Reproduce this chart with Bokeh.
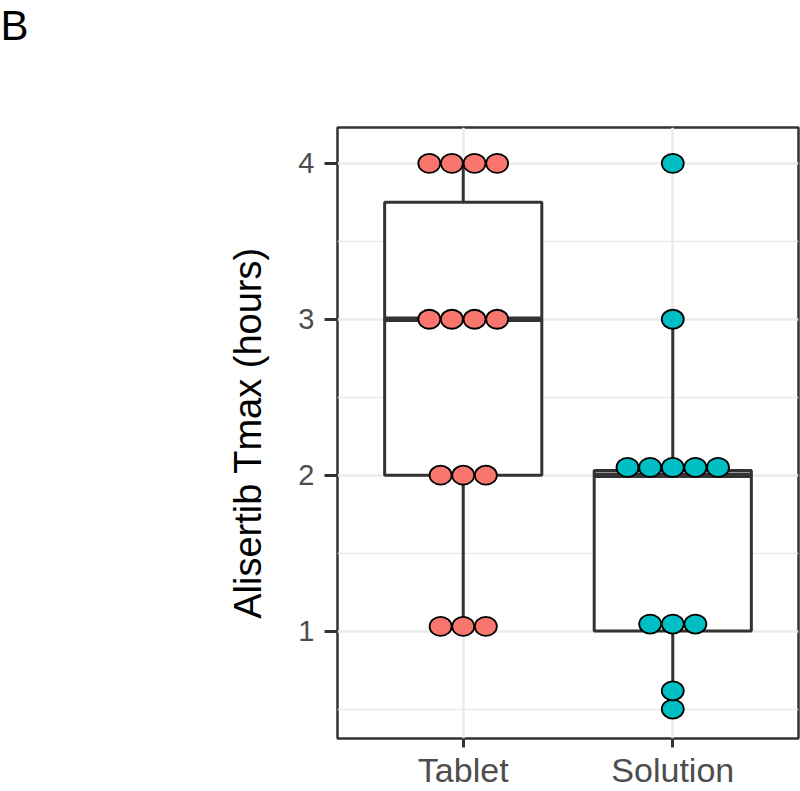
from bokeh.plotting import figure
from bokeh.models import FixedTicker, Range1d, Title
from bokeh.embed import file_html
from bokeh.resources import INLINE
from collections import Counter

# ---- data ----
categories = ["Tablet", "Solution"]
colors = ["#F8766D", "#00BFC4"]

tablet_tmax = [1.03, 1.03, 1.03, 2.0, 2.0, 2.0, 3.0, 3.0, 3.0, 3.0, 4.0, 4.0, 4.0, 4.0]
solution_tmax = [0.5, 0.617, 1.045, 1.045, 1.045, 2.05, 2.05, 2.05, 2.05, 2.05, 3.0, 4.0]

# box-plot statistics per category
whisker_low = [1.0, 0.5]
q1 = [2.0, 1.0]
median = [3.0, 2.0]
q3 = [3.75, 2.03]
whisker_high = [4.0, 3.0]

y_ticks = [1, 2, 3, 4]
y_minor = [0.5, 1.5, 2.5, 3.5]

# ---- figure ----
W, H = 800, 791
p = figure(width=W, height=H, output_backend="svg", toolbar_location=None,
           x_range=Range1d(0.4, 2.6), y_range=Range1d(0.311, 4.23),
           min_border_left=337, min_border_right=2, min_border_top=127,
           min_border_bottom=50, background_fill_color="white",
           border_fill_color="white")

p.outline_line_color = "#333333"
p.outline_line_width = 2.5

pos = [i + 1 for i in range(len(categories))]

# grids
p.xgrid.ticker = FixedTicker(ticks=pos)
p.ygrid.ticker = FixedTicker(ticks=y_ticks, minor_ticks=y_minor)
p.xgrid.grid_line_color = "#EBEBEB"
p.xgrid.grid_line_width = 2.5
p.ygrid.grid_line_color = "#EBEBEB"
p.ygrid.grid_line_width = 2.5
p.ygrid.minor_grid_line_color = "#EBEBEB"
p.ygrid.minor_grid_line_width = 1.3

# axes
p.xaxis.ticker = FixedTicker(ticks=pos)
p.xaxis.major_label_overrides = {i + 1: c for i, c in enumerate(categories)}
p.yaxis.ticker = FixedTicker(ticks=y_ticks, minor_ticks=y_minor)
for ax in (p.xaxis[0], p.yaxis[0]):
    ax.axis_line_color = None
    ax.major_tick_line_color = "#333333"
    ax.major_tick_line_width = 3
    ax.major_tick_in = 0
    ax.minor_tick_out = 0
    ax.minor_tick_in = 0
    ax.major_label_text_color = "#4D4D4D"
    ax.major_label_text_font = "Liberation Sans"
p.xaxis.major_tick_out = 9
p.xaxis.major_label_standoff = 3
p.xaxis.major_label_text_font_size = "34px"
p.yaxis.major_tick_out = 13
p.yaxis.major_label_standoff = 10
p.yaxis.major_label_text_font_size = "29px"
p.yaxis.axis_label = "Alisertib Tmax (hours)"
p.yaxis.axis_label_text_font = "Liberation Sans"
p.yaxis.axis_label_text_font_size = "38px"
p.yaxis.axis_label_text_font_style = "normal"
p.yaxis.axis_label_text_color = "black"
p.yaxis.axis_label_standoff = 26

# ---- box plots ----
half = 0.375
left = [x - half for x in pos]
right = [x + half for x in pos]
box_col = "#333333"
p.segment(x0=pos, y0=q3, x1=pos, y1=whisker_high, line_color=box_col, line_width=3)
p.segment(x0=pos, y0=q1, x1=pos, y1=whisker_low, line_color=box_col, line_width=3)
p.quad(left=left, right=right, bottom=q1, top=q3, fill_color="white",
       line_color=box_col, line_width=3)
p.segment(x0=left, y0=median, x1=right, y1=median, line_color=box_col, line_width=5.5)

# ---- dot plots (centered stacks) ----
step = 0.108
for i, vals in enumerate([tablet_tmax, solution_tmax]):
    counts = Counter(vals)
    xs, ys = [], []
    for v, n in counts.items():
        for k in range(n):
            xs.append(pos[i] + (k - (n - 1) / 2) * step)
            ys.append(v)
    p.ellipse(x=xs, y=ys, width=22, height=19, width_units="screen",
              height_units="screen", fill_color=colors[i], line_color="black",
              line_width=1.8)

# panel tag (second, blank line lifts the letter to the top of the page)
p.title = Title(text="B\n ", align="left", vertical_align="top", offset=-337,
                standoff=0, text_font="Liberation Sans", text_font_size="42px",
                text_line_height=1.63, text_font_style="normal", text_color="black")

open("out.html", "w").write(file_html(p, INLINE))
